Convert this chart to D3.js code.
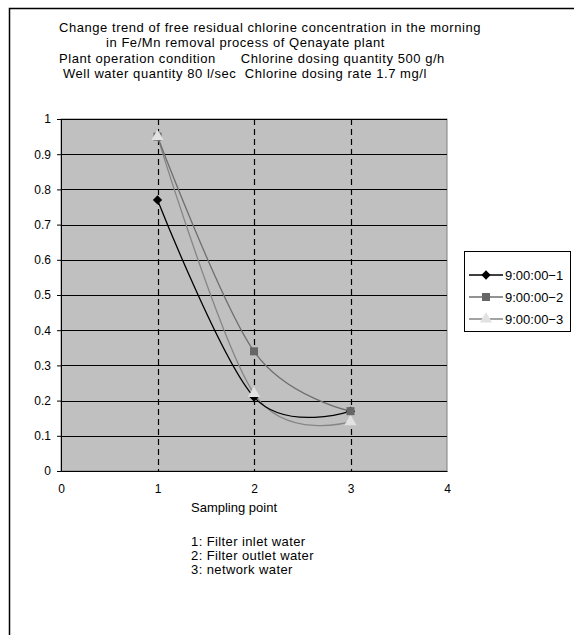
<!DOCTYPE html>
<html>
<head>
<meta charset="utf-8">
<script src="https://cdn.jsdelivr.net/npm/d3@7"></script>
<style>
  body { margin: 0; background: #fff; }
  svg text { font-family: "Liberation Sans", Arial, sans-serif; fill: #000; }
</style>
</head>
<body>
<div id="chart"></div>
<script>
// data
const samplingPoints = [1, 2, 3];
const seriesNames = ["9:00:00\u22121", "9:00:00\u22122", "9:00:00\u22123"];
const series1 = [0.77, 0.21, 0.17];
const series2 = [0.95, 0.34, 0.17];
const series3 = [0.95, 0.22, 0.14];
const yTicks = [0, 0.1, 0.2, 0.3, 0.4, 0.5, 0.6, 0.7, 0.8, 0.9, 1];
const xTicks = [0, 1, 2, 3, 4];
const titleLines = [
	"Change trend of free residual chlorine concentration in the morning",
	"in Fe/Mn removal process of Qenayate plant",
	"Plant operation condition      Chlorine dosing quantity 500 g/h",
	"Well water quantity 80 l/sec  Chlorine dosing rate 1.7 mg/l"
];
const noteLines = ["1: Filter inlet water", "2: Filter outlet water", "3: network water"];

const width = 574, height = 635;
const plot = {left: 61, right: 447, top: 119, bottom: 471};

// style per series
const styles = [
	{line: "#000", marker: "diamond", fill: "#000"},
	{line: "#6e6e6e", marker: "square", fill: "#666"},
	{line: "#858585", marker: "triangle", fill: "#e2e2e2"}
];

const svg = d3.select("#chart").append("svg")
	.attr("width", width)
	.attr("height", height);

// outer chart frame (continues past right/bottom edges)
svg.append("rect")
	.attr("x", 9.5).attr("y", 8.5)
	.attr("width", 700).attr("height", 800)
	.attr("fill", "none")
	.attr("stroke", "#000")
	.attr("stroke-width", 1.5);

const sx = d3.scaleLinear().domain([0, 4]).range([plot.left, plot.right]);
const sy = d3.scaleLinear().domain([0, 1]).range([plot.bottom, plot.top]);

// plot background
svg.append("rect")
	.attr("x", sx(0)).attr("y", sy(1))
	.attr("width", sx(4) - sx(0)).attr("height", sy(0) - sy(1))
	.attr("fill", "#c0c0c0")
	.attr("stroke", "#808080");

// horizontal grid
svg.append("g")
	.selectAll("line")
	.data(yTicks.filter(d => d > 0))
	.join("line")
	.attr("x1", sx(0)).attr("x2", sx(4))
	.attr("y1", d => Math.round(sy(d)) + 0.5)
	.attr("y2", d => Math.round(sy(d)) + 0.5)
	.attr("stroke", "#000");

// vertical dashed grid
svg.append("g")
	.selectAll("line")
	.data(samplingPoints)
	.join("line")
	.attr("x1", d => Math.round(sx(d)) + 0.5)
	.attr("x2", d => Math.round(sx(d)) + 0.5)
	.attr("y1", sy(1)).attr("y2", sy(0))
	.attr("stroke", "#000")
	.attr("stroke-width", 1.2)
	.attr("stroke-dasharray", "6,4");

// axes
const yAxis = d3.axisLeft(sy)
	.tickValues(yTicks)
	.tickFormat(d3.format("~g"))
	.tickSize(4)
	.tickPadding(6);

svg.append("g")
	.attr("transform", `translate(${sx(0)},0)`)
	.call(yAxis)
	.call(g => g.select(".domain").attr("stroke", "#000"))
	.call(g => g.selectAll("text").attr("font-size", 12).attr("font-family", null));

const xAxis = d3.axisBottom(sx)
	.tickValues(xTicks)
	.tickFormat(d3.format("d"))
	.tickSize(0)
	.tickPadding(13);

svg.append("g")
	.attr("transform", `translate(0,${sy(0)})`)
	.call(xAxis)
	.call(g => g.select(".domain").attr("stroke", "#000"))
	.call(g => g.selectAll("text").attr("font-size", 12).attr("font-family", null));

// series lines (smoothed)
const allSeries = [series1, series2, series3].map((vals, i) => ({
	name: seriesNames[i],
	style: styles[i],
	points: samplingPoints.map((x, j) => ({x: x, y: vals[j]}))
}));

const line = d3.line()
	.x(d => sx(d.x))
	.y(d => sy(d.y))
	.curve(d3.curveCardinal.tension(0));

const symbolMap = {
	diamond: d3.symbolDiamond2,
	square: d3.symbolSquare,
	triangle: d3.symbolTriangle
};
const symbolSize = {diamond: 55, square: 64, triangle: 64};

function marker(sel, style) {
	sel.attr("d", d3.symbol().type(symbolMap[style.marker]).size(symbolSize[style.marker]))
		.attr("fill", style.fill)
		.attr("stroke", "none");
}

// lines: black drawn last so it stays on top
allSeries.slice().reverse().forEach(s => {
	svg.append("path")
		.datum(s.points)
		.attr("d", line)
		.attr("fill", "none")
		.attr("stroke", s.style.line)
		.attr("stroke-width", 1.3);
});
// markers: series order, triangle ends on top
allSeries.forEach(s => {
	svg.append("g")
		.selectAll("path")
		.data(s.points)
		.join("path")
		.attr("transform", d => `translate(${sx(d.x)},${sy(d.y)})`)
		.call(marker, s.style);
});

// title
svg.append("g")
	.selectAll("text")
	.data(titleLines)
	.join("text")
	.attr("x", (d, i) => [59, 106, 59, 63][i])
	.attr("y", (d, i) => [32, 47, 63, 78][i])
	.attr("font-size", 13)
	.attr("letter-spacing", 0.55)
	.attr("xml:space", "preserve")
	.style("white-space", "pre")
	.text(d => d);

// axis title
svg.append("text")
	.attr("x", 191)
	.attr("y", 512)
	.attr("font-size", 13)
	.text("Sampling point");

// notes below
svg.append("g")
	.selectAll("text")
	.data(noteLines)
	.join("text")
	.attr("x", 191)
	.attr("y", (d, i) => 546 + i * 14)
	.attr("font-size", 13)
	.attr("letter-spacing", 0.4)
	.text(d => d);

// legend
const legend = svg.append("g").attr("transform", "translate(464,251)");
legend.append("rect")
	.attr("x", 0.5).attr("y", 0.5)
	.attr("width", 106).attr("height", 80)
	.attr("fill", "#fff")
	.attr("stroke", "#000");

const entry = legend.selectAll(".entry")
	.data(allSeries)
	.join("g")
	.attr("class", "entry")
	.attr("transform", (d, i) => `translate(0,${24 + i * 22})`);

entry.append("line")
	.attr("x1", 5).attr("x2", 39)
	.attr("y1", 0).attr("y2", 0)
	.attr("stroke", d => d.style.line)
	.attr("stroke-width", 1.3);

entry.append("path")
	.attr("transform", "translate(22,0)")
	.each(function(d) { d3.select(this).call(marker, d.style); });

entry.append("text")
	.attr("x", 41)
	.attr("y", 5)
	.attr("font-size", 13)
	.text(d => d.name);
</script>
</body>
</html>
